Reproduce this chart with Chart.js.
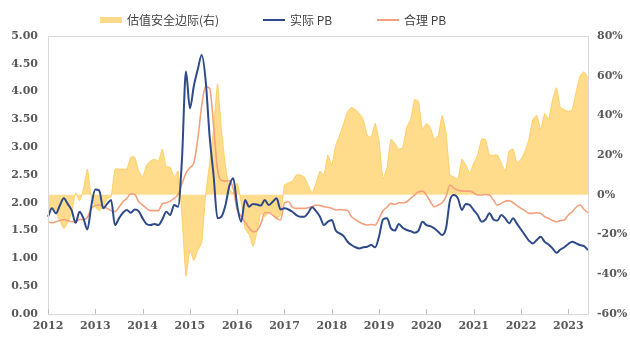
<!DOCTYPE html>
<html>
<head>
<meta charset="utf-8">
<script src="https://cdn.jsdelivr.net/npm/chart.js@4.4.0/dist/chart.umd.min.js"></script>
<style>
    body { margin: 0; background: #fff; }
    #wrap { position: relative; width: 630px; height: 342px; }
    .legend-item { position: absolute; top: 11px; display: flex; align-items: center; white-space: nowrap;
        font: 12px "Noto Sans CJK SC", sans-serif; color: #404040; }
    .legend-item .sw { display: inline-block; width: 22px; margin-right: 5px; }
</style>
</head>
<body>
<div id="wrap">
    <canvas id="pbChart" width="630" height="342"></canvas>
    <div class="legend-item" style="left:100px;"><span class="sw" style="height:6px;background:#FFDB89;"></span>估值安全边际(右)</div>
    <div class="legend-item" style="left:263px;"><span class="sw" style="height:2px;background:#2F4A8A;"></span>实际 PB</div>
    <div class="legend-item" style="left:377px;"><span class="sw" style="height:2px;background:#F4A07C;"></span>合理 PB</div>
</div>
<script>
// ============================================
// DATA (monthly, 2012-01 .. 2023-06)
// ============================================
const years = [2012, 2013, 2014, 2015, 2016, 2017, 2018, 2019, 2020, 2021, 2022, 2023];
const lastMonth = 6;

const actualPB = [
    1.75, 1.90, 1.81, 1.95, 2.08, 1.98, 1.87, 1.64, 1.84, 1.72, 1.52, 1.95,
    2.24, 2.22, 1.90, 1.98, 2.05, 1.60, 1.72, 1.82, 1.87, 1.82, 1.88, 1.85,
    1.72, 1.62, 1.60, 1.62, 1.60, 1.70, 1.84, 1.78, 1.96, 1.93, 2.80, 4.36,
    3.70, 4.10, 4.40, 4.66, 4.20, 3.20, 2.50, 1.72, 1.75, 1.95, 2.30, 2.44,
    1.95, 1.66, 2.05, 1.93, 1.98, 1.97, 1.95, 2.05, 1.96, 2.02, 2.08, 1.88,
    1.90, 1.88, 1.84, 1.78, 1.75, 1.75, 1.82, 1.92, 1.85, 1.75, 1.60, 1.66,
    1.69, 1.50, 1.45, 1.40, 1.30, 1.24, 1.20, 1.18, 1.20, 1.21, 1.24, 1.20,
    1.40, 1.70, 1.72, 1.54, 1.50, 1.62, 1.55, 1.51, 1.49, 1.46, 1.50, 1.66,
    1.60, 1.58, 1.54, 1.48, 1.42, 1.55, 2.05, 2.14, 2.08, 1.87, 1.98, 1.96,
    1.87, 1.78, 1.66, 1.70, 1.81, 1.70, 1.68, 1.78, 1.72, 1.63, 1.72, 1.62,
    1.52, 1.42, 1.32, 1.27, 1.33, 1.39, 1.30, 1.25, 1.18, 1.10, 1.16, 1.20,
    1.26, 1.30, 1.27, 1.24, 1.22, 1.15
];

const fairPB = [
    1.66, 1.64, 1.66, 1.68, 1.70, 1.68, 1.66, 1.66, 1.70, 1.70, 1.74, 1.90,
    1.95, 1.96, 1.93, 1.90, 1.86, 1.84, 1.92, 2.02, 2.08, 2.16, 2.15, 2.02,
    1.96, 1.90, 1.86, 1.86, 1.86, 1.98, 2.00, 2.03, 2.08, 2.15, 2.35, 2.53,
    2.63, 2.72, 3.15, 3.75, 4.09, 4.06, 3.40, 2.60, 2.40, 2.39, 2.40, 2.25,
    1.88, 1.76, 1.65, 1.55, 1.48, 1.50, 1.62, 1.82, 1.82, 1.78, 1.72, 1.69,
    2.00, 2.02, 1.92, 1.90, 1.90, 1.90, 1.91, 1.93, 1.96, 1.95, 1.93, 1.92,
    1.90, 1.87, 1.88, 1.87, 1.86, 1.75, 1.70, 1.65, 1.62, 1.60, 1.61, 1.60,
    1.72, 1.86, 1.92, 1.99, 1.97, 2.00, 2.00, 2.02, 2.08, 2.14, 2.20, 2.21,
    2.14, 2.02, 1.93, 1.96, 2.00, 2.12, 2.32, 2.26, 2.23, 2.21, 2.21, 2.21,
    2.18, 2.14, 2.14, 2.15, 2.14, 2.05, 1.96, 1.99, 2.03, 2.04, 2.00, 1.95,
    1.90, 1.86, 1.81, 1.81, 1.82, 1.81, 1.75, 1.72, 1.68, 1.66, 1.68, 1.69,
    1.78, 1.84, 1.92, 1.96, 1.88, 1.82
];

// valuation safety margin, % (right axis)
const safetyMargin = [
    -11, -6, -9, -13, -17, -14, -9, 1, -3, 3, 13, -1,
    -6, -8, -6, -2, -1, 13, 13, 13, 13, 19, 19, 12,
    9, 15, 17, 18, 17, 23, 14, 14, 9, 12, -11, -41,
    -28, -33, -28, -24, 0, 16, 33, 56, 33, 15, 3, 1,
    6, -4, -17, -20, -26, -19, -9, -11, -9, -9, -12, -10,
    5, 6, 7, 10, 10, 9, 5, 1, 6, 12, 10, 20,
    15, 25, 30, 36, 42, 44, 43, 41, 38, 30, 29, 36,
    27, 8, 14, 28, 26, 23, 24, 34, 38, 48, 47, 33,
    36, 34, 28, 30, 40, 31, 10, 9, 8, 18, 15, 11,
    16, 20, 28, 28, 20, 20, 20, 16, 12, 22, 23, 16,
    18, 22, 28, 38, 40, 33, 41, 38, 48, 54, 44, 43,
    42, 43, 52, 60, 62, 59
];

const leftTicks = { min: 0, max: 5, step: 0.5 };
const rightTicks = { min: -60, max: 80, step: 20 };

const months = [];
years.forEach(y => {
    for (let m = 1; m <= 12; m++) {
        if (y === years[years.length - 1] && m > lastMonth) break;
        months.push(y + '-' + String(m).padStart(2, '0'));
    }
});

// ============================================
// CHART
// ============================================
const tickFont = { family: '"DejaVu Serif", serif', size: 11, weight: 'bold' };
const tickColor = '#595959';
const frameColor = '#d9d9d9';

// light box round the plot plus short inner year ticks
const framePlugin = {
    id: 'frame',
    afterDatasetsDraw(chart) {
        const { ctx, chartArea: a, scales } = chart;
        ctx.save();
        ctx.strokeStyle = frameColor;
        ctx.lineWidth = 1;
        ctx.strokeRect(a.left + 0.5, a.top + 0.5, a.right - a.left, a.bottom - a.top);
        ctx.strokeStyle = '#bfbfbf';
        months.forEach((lbl, i) => {
            if (!lbl.endsWith('-01')) return;
            const x = Math.round(scales.x.getPixelForValue(i)) + 0.5;
            ctx.beginPath();
            ctx.moveTo(x, a.bottom);
            ctx.lineTo(x, a.bottom - 5);
            ctx.stroke();
        });
        ctx.restore();
    }
};

new Chart(document.getElementById('pbChart'), {
    type: 'line',
    data: {
        labels: months,
        datasets: [
            {
                label: '估值安全边际(右)',
                data: safetyMargin,
                yAxisID: 'y1',
                fill: 'origin',
                backgroundColor: 'rgba(255, 205, 90, 0.7)',
                borderColor: 'rgba(255, 200, 80, 0.8)',
                borderWidth: 1,
                pointRadius: 0,
                tension: 0.15,
                order: 3
            },
            {
                label: '实际 PB',
                data: actualPB,
                yAxisID: 'y',
                borderColor: '#2F4A8A',
                borderWidth: 2,
                pointRadius: 0,
                fill: false,
                cubicInterpolationMode: 'monotone',
                order: 1
            },
            {
                label: '合理 PB',
                data: fairPB,
                yAxisID: 'y',
                borderColor: '#F4A07C',
                borderWidth: 1.6,
                pointRadius: 0,
                fill: false,
                cubicInterpolationMode: 'monotone',
                order: 2
            }
        ]
    },
    options: {
        responsive: false,
        animation: false,
        layout: { padding: { top: 36, left: 4, right: 0, bottom: 0 } },
        plugins: {
            legend: { display: false },
            tooltip: { enabled: false }
        },
        scales: {
            x: {
                grid: { display: false, drawTicks: false },
                border: { display: false },
                ticks: {
                    autoSkip: false,
                    maxRotation: 0,
                    padding: 6,
                    color: tickColor,
                    font: tickFont,
                    callback: function(value) {
                        const l = this.getLabelForValue(value);
                        return l.endsWith('-01') ? l.slice(0, 4) : '';
                    }
                },
                afterFit(scale) { scale.height = 28; }
            },
            y: {
                position: 'left',
                min: leftTicks.min,
                max: leftTicks.max,
                grid: { display: false, drawTicks: false },
                border: { display: false },
                ticks: {
                    stepSize: leftTicks.step,
                    padding: 10,
                    color: tickColor,
                    font: tickFont,
                    callback: value => value.toFixed(2)
                },
                afterFit(scale) { scale.width = 44; }
            },
            y1: {
                position: 'right',
                min: rightTicks.min,
                max: rightTicks.max,
                grid: { display: false, drawTicks: false },
                border: { display: false },
                ticks: {
                    stepSize: rightTicks.step,
                    padding: 9,
                    color: tickColor,
                    font: tickFont,
                    callback: value => value + '%'
                },
                afterFit(scale) { scale.width = 42; }
            }
        }
    },
    plugins: [framePlugin]
});
</script>
</body>
</html>
